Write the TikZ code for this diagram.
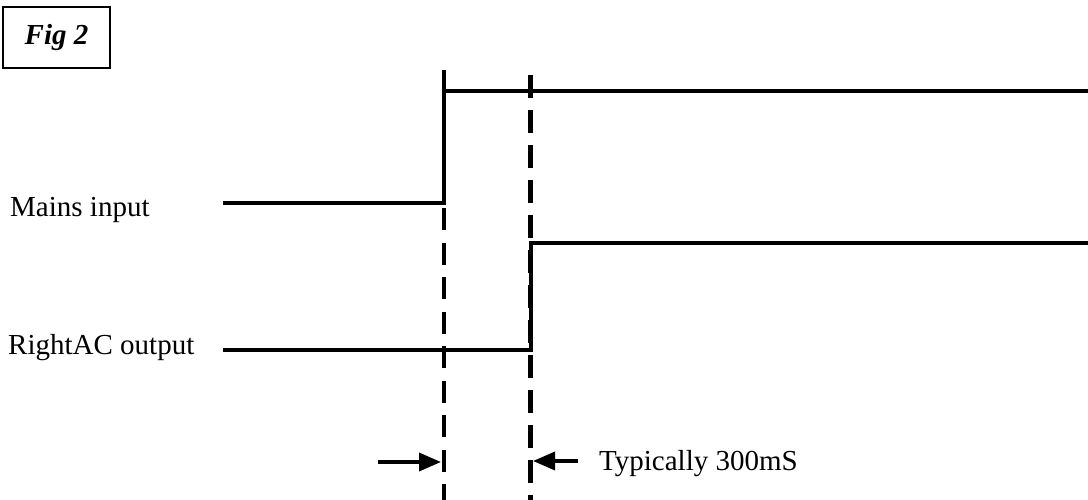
\documentclass[tikz,border=0pt]{standalone}
\usepackage{fontspec}
\setmainfont{Liberation Serif}
\usetikzlibrary{arrows.meta}
\begin{document}
\begin{tikzpicture}[x=1pt,y=-1pt,
  signal/.style={line width=4pt,line join=miter,line cap=butt},
  guide/.style={line width=4.5pt,line cap=butt,dash pattern=on 22pt off 12.5pt},
  gap/.style={line width=3.5pt,-{Triangle[length=22pt,width=18pt]}},
  lbl/.style={anchor=base west,inner sep=0pt,font=\fontsize{29}{33}\selectfont},
  figbox/.style={draw,line width=1.5pt,minimum width=107pt,minimum height=61pt,inner sep=0pt,font=\fontsize{29}{33}\selectfont\bfseries\itshape}]
\useasboundingbox (0,0) rectangle (1088,500);
% figure tag
\node[figbox] (fig) at (56.5,37.5) {Fig 2};
% guide lines
\coordinate (d1t) at (444,70);
\coordinate (d1b) at (444,500);
\coordinate (d2t) at (530.5,75);
\coordinate (d2b) at (530.5,500);
\draw[guide] (d1t) -- (d1b);
\draw[guide,dash pattern=on 23pt off 12pt] (d2t) -- (d2b);
% mains input
\coordinate (m0) at (223,203);
\coordinate (m1) at (444,203);
\coordinate (m2) at (444,91);
\coordinate (m3) at (1088,91);
\draw[signal] (m0) -- (m1) -- (m2) -- (m3);
% rightac output
\coordinate (r0) at (223,350);
\coordinate (r1) at (530.5,350);
\coordinate (r2) at (530.5,243);
\coordinate (r3) at (1088,243);
\draw[signal] (r0) -- (r1) -- (r2) -- (r3);
% labels
\node[lbl] (lm) at (10,217) {Mains input};
\node[lbl] (lr) at (8,354) {RightAC output};
% delay arrows
\coordinate (a1s) at (378,462);
\coordinate (a1e) at (441,462);
\coordinate (a2s) at (578,461);
\coordinate (a2e) at (533,461);
\draw[gap] (a1s) -- (a1e);
\draw[gap] (a2s) -- (a2e);
\node[lbl] (lt) at (599,470) {Typically 300mS};
\end{tikzpicture}
\end{document}
